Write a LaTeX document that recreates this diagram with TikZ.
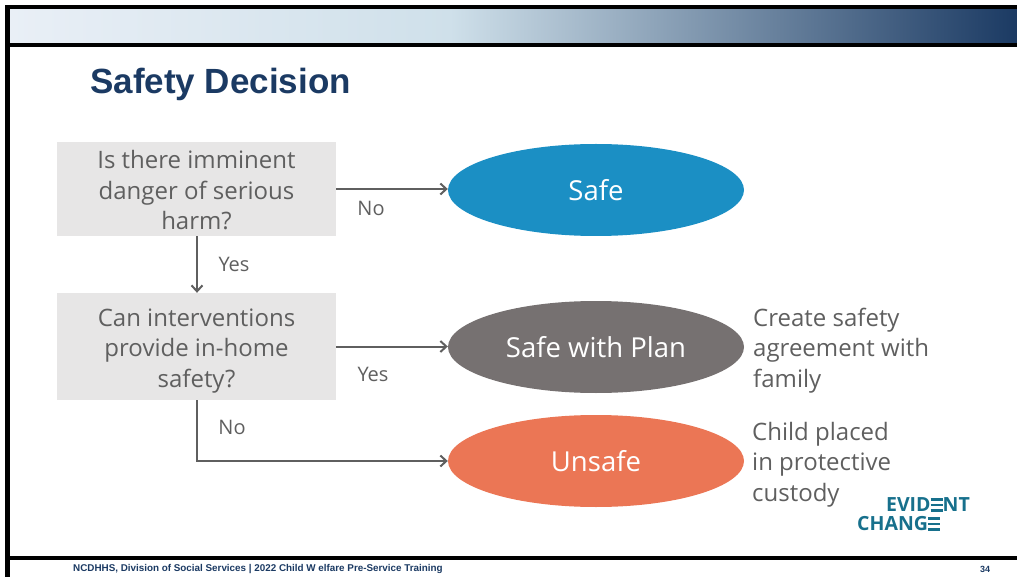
\documentclass[tikz,border=0pt]{standalone}
\usepackage{fontspec}
\usepackage{tikz}
\usetikzlibrary{arrows.meta,shapes.geometric}
\setmainfont{Open Sans}
\newfontfamily\headfont{Liberation Sans}
\definecolor{navy}{HTML}{1B3A63}
\definecolor{bandleft}{HTML}{E9EFF6}
\definecolor{bandmid}{HTML}{CFE0EA}
\definecolor{flowgray}{HTML}{5F5F5F}
\definecolor{boxgray}{HTML}{E7E6E6}
\definecolor{safeblue}{HTML}{1B8FC4}
\definecolor{plangray}{HTML}{767171}
\definecolor{unsafered}{HTML}{EB7655}
\definecolor{logoteal}{HTML}{17708C}
% the middle E of the logo, three bars
\newcommand{\barE}{\rule{.62em}{.13em}\llap{\raisebox{.29em}{\rule{.62em}{.13em}}}\llap{\raisebox{.58em}{\rule{.62em}{.13em}}}}

\begin{document}
\begin{tikzpicture}
	[
	x=1pt,y=-1pt,
	align=center,
	question/.style={fill=boxgray,minimum width=279pt,inner sep=0pt},
	qtext/.style={text=flowgray,inner sep=0pt,font=\fontsize{24}{30.5}\selectfont},
	outcome/.style={ellipse,minimum width=296pt,minimum height=92pt,inner sep=0pt},
	otext/.style={text=white,inner sep=0pt,font=\fontsize{27.5}{30}\selectfont},
	note/.style={text=flowgray,align=left,anchor=west,inner sep=0pt,font=\fontsize{24}{30.5}\selectfont},
	lbl/.style={text=flowgray,inner sep=0pt,font=\fontsize{20}{22}\selectfont},
	flow/.style={draw=flowgray,line width=2pt,-{Straight Barb[length=6pt,width=11pt]}},
	bar/.style={fill=black,draw=none},
	logo/.style={inner sep=0pt,text=logoteal,font=\bfseries\fontsize{19.5}{19.5}\selectfont},
	]
		\useasboundingbox (0,0) rectangle (1017,577);

		% header band
		\fill[left color=bandleft,right color=bandmid] (9,9) rectangle (450,43);
		\fill[left color=bandmid,right color=navy] (450,9) rectangle (1017,43);
		\fill[bar] (6,5) rectangle (1017,9);
		\fill[bar] (6,43) rectangle (1017,47);
		\fill[bar] (5,5) rectangle (9.5,577);
		\fill[bar] (6,556) rectangle (1017,560);

		% title and footer
		\node[anchor=west,inner sep=0pt,text=navy,font=\headfont\bfseries\fontsize{35}{38}\selectfont] (title) at (90,84.5) {Safety Decision};
		\node[anchor=west,inner sep=0pt,text=navy,font=\headfont\bfseries\fontsize{9.85}{11}\selectfont] (foot) at (73,569.5) {NCDHHS, Division of Social Services | 2022 Child W elfare Pre-Service Training};
		\node[inner sep=0pt,text=navy,font=\headfont\bfseries\fontsize{9}{10}\selectfont] (page) at (985,569.5) {34};

		% questions
		\node[question,minimum height=94pt] (danger) at (196.5,189) {};
		\node[question,minimum height=107pt] (interv) at (196.5,346.5) {};
		\node[qtext] (dangertxt) at (196.5,190.5) {Is there imminent\\danger of serious\\harm?};
		\node[qtext] (intervtxt) at (196.5,351) {Can interventions\\provide in-home\\safety?};

		% outcomes
		\node[outcome,fill=safeblue] (safe) at (596,190) {};
		\node[outcome,fill=plangray] (plan) at (596,347) {};
		\node[outcome,fill=unsafered] (unsafe) at (596,461) {};
		\node[otext] (safetxt) at (596,190) {Safe};
		\node[otext] (plantxt) at (596,347) {Safe with Plan};
		\node[otext] (unsafetxt) at (596,461) {Unsafe};

		% notes
		\node[note] (plannote) at (753,350.5) {Create safety\\agreement with\\family};
		\node[note] (unsafenote) at (752,464.5) {Child placed\\in protective\\custody};

		% arrow labels
		\node[lbl] (nosafe) at (371,208) {No};
		\node[lbl] (yesdown) at (234,264) {Yes};
		\node[lbl] (yesplan) at (373,374) {Yes};
		\node[lbl] (nodown) at (232,427) {No};

		% connectors
		\coordinate (drop) at (197,0);
		\foreach \from/\to in {danger/safe,interv/plan} \draw[flow] (\from.east) -- (\from.east -| \to.west);
		\draw[flow] (drop |- danger.south) -- (drop |- interv.north);
		\draw[flow] (drop |- interv.south) |- (unsafe.west);

		% logo
		\node[logo,anchor=east] (evident) at (970,505) {EVID\barE NT};
		\node[logo,anchor=west] (change) at (857,524) {CHANG\barE};
	\end{tikzpicture}
\end{document}
